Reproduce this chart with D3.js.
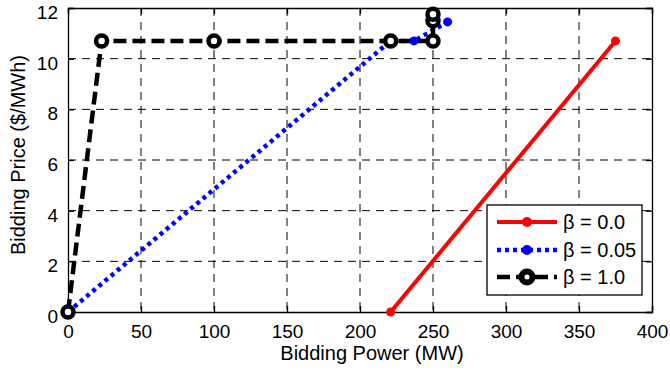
<!DOCTYPE html>
<html><head><meta charset="utf-8">
<script src="https://cdn.jsdelivr.net/npm/d3@7"></script>
<style>body{margin:0;background:#fff}svg{display:block}text{font-family:"Liberation Sans",Arial,sans-serif;fill:#000}</style>
</head><body><svg id="c" width="670" height="377"></svg>
<script>
const xTicks = [0,50,100,150,200,250,300,350,400];
const yTicks = [0,2,4,6,8,10,12];
const seriesNames = ["β = 0.0","β = 0.05","β = 1.0"];
const beta00 = [[221,0],[375,10.7]];
const beta005 = [[0,0],[221,10.7],[237,10.7],[260,11.45]];
const beta10 = [[0,0],[23,10.7],[100,10.7],[221,10.7],[250,10.7],[250,11.5],[250,11.75]];

const svg = d3.select("#c");
const L=68,R=652,T=8,B=312;
const x = d3.scaleLinear().domain([0,400]).range([L,R]);
const y = d3.scaleLinear().domain([0,12]).range([B,T]);

// grid
const g = svg.append("g");
xTicks.slice(1,-1).forEach(t=>g.append("line").attr("x1",x(t)).attr("x2",x(t)).attr("y1",T).attr("y2",B)
  .attr("stroke","#000").attr("stroke-width",1).attr("stroke-dasharray","8,6"));
yTicks.slice(1,-1).forEach(t=>g.append("line").attr("x1",L).attr("x2",R).attr("y1",y(t)).attr("y2",y(t))
  .attr("stroke","#000").attr("stroke-width",1).attr("stroke-dasharray","8,6"));

// axes
const xa = svg.append("g").attr("transform",`translate(0,${B})`).call(d3.axisBottom(x).tickValues(xTicks).tickSize(-6).tickPadding(10));
const xt = svg.append("g").attr("transform",`translate(0,${T})`).call(d3.axisTop(x).tickValues(xTicks).tickSize(-6).tickFormat(""));
const ya = svg.append("g").attr("transform",`translate(${L},0)`).call(d3.axisLeft(y).tickValues(yTicks).tickSize(-6).tickPadding(10));
const yr = svg.append("g").attr("transform",`translate(${R},0)`).call(d3.axisRight(y).tickValues(yTicks).tickSize(-6).tickFormat(""));
[xa,xt,ya,yr].forEach(a=>{a.select(".domain").attr("stroke","#000").attr("stroke-width",1.3);
  a.selectAll(".tick line").attr("stroke","#000").attr("stroke-width",1.3);
  a.selectAll("text").style("font-size","19px").attr("fill","#000");});
xa.selectAll("text").attr("dy","0.85em");
ya.selectAll("text").attr("dy","0.35em").attr("y",4);

const line = d3.line().x(d=>x(d[0])).y(d=>y(d[1]));
const styles = [
 {data:beta00,color:"#ff0000",dash:null,w:4,marker:"dot"},
 {data:beta005,color:"#0000ff",dash:"4,4",w:4.5,marker:"dot"},
 {data:beta10,color:"#000",dash:"13,6",w:4.5,marker:"ring"}
];
styles.forEach(s=>{
  svg.append("path").attr("d",line(s.data)).attr("fill","none").attr("stroke",s.color)
    .attr("stroke-width",s.w).attr("stroke-dasharray",s.dash);
});
styles.forEach(s=>{
  s.data.forEach(d=>{
    if(s.marker==="dot") svg.append("circle").attr("cx",x(d[0])).attr("cy",y(d[1])).attr("r",4.5).attr("fill",s.color);
    else svg.append("circle").attr("cx",x(d[0])).attr("cy",y(d[1])).attr("r",5.5).attr("fill","#fff").attr("stroke","#000").attr("stroke-width",4.5);
  });
});

// legend
const lg = svg.append("g");
lg.append("rect").attr("x",487).attr("y",205).attr("width",155).attr("height",90).attr("fill","#fff").attr("stroke","#000").attr("stroke-width",1.3);
const ly=[222,250,277];
styles.forEach((s,i)=>{
  lg.append("line").attr("x1",497).attr("x2",557).attr("y1",ly[i]).attr("y2",ly[i]).attr("stroke",s.color)
    .attr("stroke-width",s.w).attr("stroke-dasharray",s.dash);
  if(s.marker==="dot") lg.append("circle").attr("cx",527).attr("cy",ly[i]).attr("r",5).attr("fill",s.color);
  else lg.append("circle").attr("cx",527).attr("cy",ly[i]).attr("r",5.5).attr("fill","#fff").attr("stroke","#000").attr("stroke-width",6);
  lg.append("text").attr("x",563).attr("y",ly[i]).attr("dy","0.35em").style("font-size","20px").text(seriesNames[i]);
});

svg.append("text").attr("x",(L+R)/2+12).attr("y",360).attr("text-anchor","middle").style("font-size","20px").text("Bidding Power (MW)");
svg.append("text").attr("transform","translate(25,155) rotate(-90)").attr("text-anchor","middle").style("font-size","20px").text("Bidding Price ($/MWh)");
</script></body></html>
